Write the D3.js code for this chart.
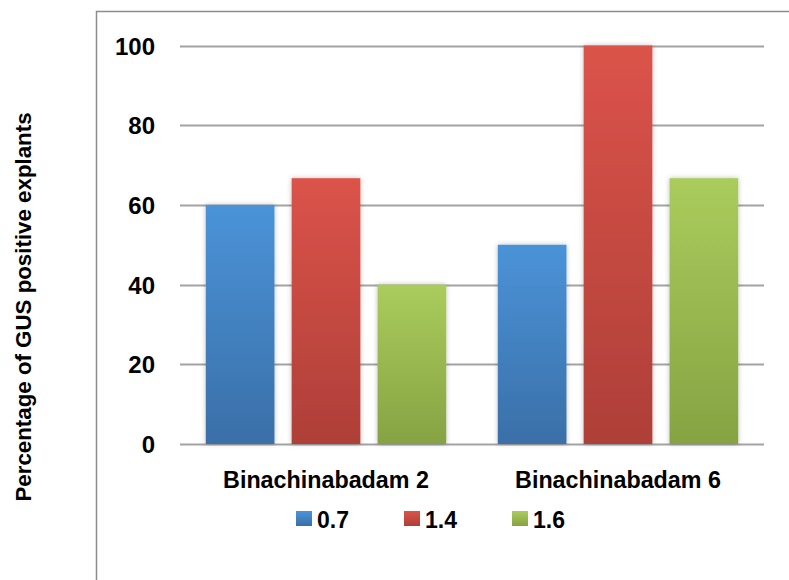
<!DOCTYPE html>
<html><head><meta charset="utf-8">
<script src="https://cdn.jsdelivr.net/npm/d3@7"></script>
<style>body{margin:0;background:#fff}svg{display:block}</style>
</head><body><div id="c"></div>
<script>
const categories = ["Binachinabadam 2", "Binachinabadam 6"];
const seriesNames = ["0.7", "1.4", "1.6"];
const series07 = [60, 50];
const series14 = [66.7, 100];
const series16 = [40, 66.7];
const yTicks = [0, 20, 40, 60, 80, 100];
const yTitle = "Percentage of GUS positive explants";

const values = [series07, series14, series16];
const colorsTop = ["#4b93d8", "#db534a", "#aacc5c"];
const colorsBot = ["#3a6fa8", "#ae3f38", "#86a343"];

const W = 789, H = 580;
const svg = d3.select("#c").append("svg").attr("width", W).attr("height", H);
const defs = svg.append("defs");
colorsTop.forEach((c, i) => {
  const g = defs.append("linearGradient").attr("id", "g" + i).attr("x1", 0).attr("y1", 0).attr("x2", 0).attr("y2", 1);
  g.append("stop").attr("offset", "0%").attr("stop-color", c);
  g.append("stop").attr("offset", "100%").attr("stop-color", colorsBot[i]);
});
const f = defs.append("filter").attr("id", "sh").attr("x", "-20%").attr("y", "-20%").attr("width", "140%").attr("height", "140%");
f.append("feDropShadow").attr("dx", 0).attr("dy", 0).attr("stdDeviation", 2.5).attr("flood-color", "#000").attr("flood-opacity", 0.25);

// frame
svg.append("path").attr("d", "M96.5,580 V11.5 H789").attr("fill", "none").attr("stroke", "#8c8c8c").attr("stroke-width", 1.5);

const x0 = 180, x1 = 764;
const y = d3.scaleLinear().domain([0, 100]).range([444, 45.5]);
const xb = d3.scaleBand().domain(categories).range([x0, x1]).paddingInner(0).paddingOuter(0);
const xs = d3.scaleBand().domain(seriesNames).range([0, xb.bandwidth()]).paddingInner(0.2).paddingOuter(0.3);

const font = "'Liberation Sans', Arial, sans-serif";

// gridlines
svg.append("g").selectAll("line").data(yTicks).join("line")
  .attr("x1", x0).attr("x2", x1)
  .attr("y1", d => Math.round(y(d)) + 0.5).attr("y2", d => Math.round(y(d)) + 0.5)
  .attr("stroke", "#a3a3a3").attr("stroke-width", 2);

// y axis labels
const ya = svg.append("g").attr("transform", "translate(155,0)")
  .call(d3.axisLeft(y).tickValues(yTicks).tickSize(0).tickPadding(0).tickFormat(d3.format("d")));
ya.select(".domain").remove();
ya.selectAll("text").attr("font-family", font).attr("font-weight", "bold").attr("font-size", 24).attr("fill", "#000").attr("dy", "0.36em");

// bars
seriesNames.forEach((s, si) => {
  svg.append("g").selectAll("rect").data(categories).join("rect")
    .attr("x", c => xb(c) + xs(s))
    .attr("width", xs.bandwidth())
    .attr("y", (c, ci) => y(values[si][ci]))
    .attr("height", (c, ci) => y(0) - y(values[si][ci]))
    .attr("fill", "url(#g" + si + ")")
    .attr("filter", "url(#sh)");
});

// x labels
const xa = svg.append("g").attr("transform", "translate(0,488)")
  .call(d3.axisBottom(xb).tickSize(0).tickPadding(0));
xa.select(".domain").remove();
xa.selectAll("text").attr("font-family", font).attr("font-weight", "bold").attr("font-size", 23.3).attr("fill", "#000").attr("dy", 0);

// y title
svg.append("text").attr("transform", "translate(31,307) rotate(-90)")
  .attr("text-anchor", "middle").attr("font-family", font).attr("font-weight", "bold").attr("font-size", 22.3)
  .text(yTitle);

// legend
const lx = [296, 404, 512];
const lg = svg.append("g");
seriesNames.forEach((s, i) => {
  lg.append("rect").attr("x", lx[i]).attr("y", 511).attr("width", 16).attr("height", 15).attr("fill", "url(#g" + i + ")");
  lg.append("text").attr("x", lx[i] + 21).attr("y", 528).attr("font-family", font).attr("font-weight", "bold").attr("font-size", 23).text(s);
});
</script></body></html>
